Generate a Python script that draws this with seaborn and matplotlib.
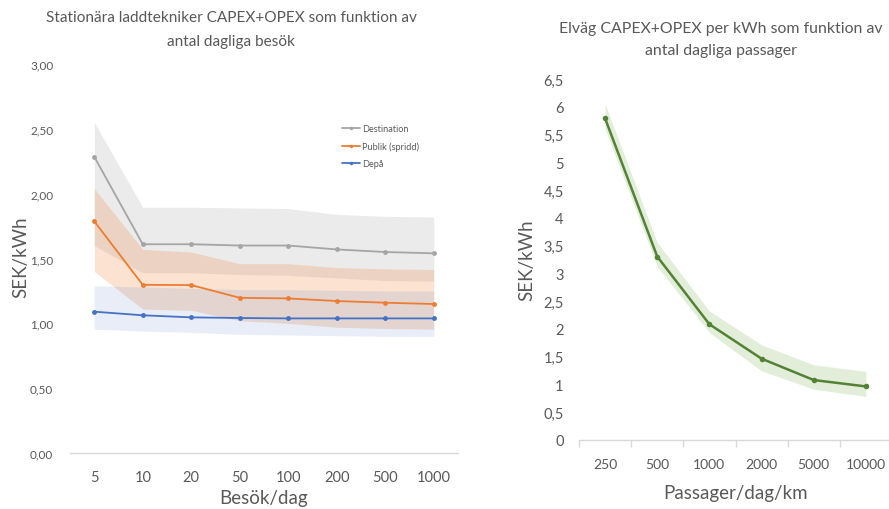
import matplotlib
matplotlib.use("Agg")
import matplotlib.pyplot as plt
from matplotlib.lines import Line2D
import seaborn as sns
import pandas as pd
import numpy as np

# ---------------- data: left chart ----------------
visits = ["5", "10", "20", "50", "100", "200", "500", "1000"]
series_names = ["Destination", "Publik (spridd)", "Depå"]
destination = [2.285, 1.61, 1.61, 1.60, 1.60, 1.57, 1.55, 1.54]
publik = [1.787, 1.297, 1.295, 1.197, 1.192, 1.172, 1.159, 1.149]
depa = [1.09, 1.062, 1.046, 1.041, 1.038, 1.038, 1.038, 1.038]
destination_hi = [2.55, 1.895, 1.895, 1.89, 1.885, 1.84, 1.825, 1.82]
destination_lo = [1.60, 1.39, 1.39, 1.377, 1.37, 1.35, 1.33, 1.325]
publik_hi = [2.04, 1.57, 1.55, 1.46, 1.46, 1.43, 1.42, 1.415]
publik_lo = [1.40, 1.11, 1.10, 1.02, 1.00, 0.97, 0.96, 0.955]
depa_hi = [1.29, 1.28, 1.27, 1.26, 1.26, 1.255, 1.25, 1.25]
depa_lo = [0.955, 0.94, 0.93, 0.915, 0.91, 0.905, 0.90, 0.90]
left_yticks = [0.0, 0.5, 1.0, 1.5, 2.0, 2.5, 3.0]

# ---------------- data: right chart ----------------
passages = ["250", "500", "1000", "2000", "5000", "10000"]
elvag = [5.79, 3.30, 2.08, 1.46, 1.075, 0.96]
elvag_hi = [6.05, 3.55, 2.32, 1.71, 1.35, 1.23]
elvag_lo = [5.60, 3.12, 1.93, 1.24, 0.91, 0.78]
right_yticks = [0, 0.5, 1, 1.5, 2, 2.5, 3, 3.5, 4, 4.5, 5, 5.5, 6, 6.5]

# ---------------- style ----------------
sns.set_theme(style="white")
plt.rcParams["font.family"] = ["Lato", "DejaVu Sans"]
TXT = "#595959"
AX = "#D9D9D9"
colors = {"Destination": "#A5A5A5", "Publik (spridd)": "#ED7D31", "Depå": "#4472C4"}
green_line = "#548235"
green_fill = "#70AD47"

fig = plt.figure(figsize=(8.89, 5.10), dpi=100)

# ---------------- left chart ----------------
W, H = 889.0, 510.0
axL = fig.add_axes([70 / W, (H - 454) / H, (458 - 70) / W, (454 - 65) / H])
pos = list(range(len(visits)))
df_left = pd.DataFrame({
    "pos": pos * 3,
    "value": destination + publik + depa,
    "series": [series_names[0]] * len(pos) + [series_names[1]] * len(pos) + [series_names[2]] * len(pos),
})

axL.fill_between(pos, destination_lo, destination_hi, color=colors["Destination"], alpha=0.22, lw=0, zorder=1)
axL.fill_between(pos, publik_lo, publik_hi, color=colors["Publik (spridd)"], alpha=0.22, lw=0, zorder=1)
axL.fill_between(pos, depa_lo, depa_hi, color=colors["Depå"], alpha=0.12, lw=0, zorder=1)

sns.lineplot(data=df_left, x="pos", y="value", hue="series", hue_order=series_names,
             palette=colors, marker="o", markersize=3.5, markeredgewidth=0,
             linewidth=1.3, legend=False, ax=axL, zorder=3)

axL.set_xlim(-0.5, len(visits) - 0.5)
axL.set_ylim(0, 3.0)
axL.set_xticks(pos)
axL.set_xticklabels(visits, fontsize=10.5, color=TXT)
axL.set_yticks(left_yticks)
axL.set_yticklabels([f"{v:.2f}".replace(".", ",") for v in left_yticks], fontsize=8.5, color=TXT)
axL.tick_params(axis="x", length=0, pad=12)
axL.tick_params(axis="y", length=0, pad=12)
for s in ["top", "right", "left"]:
    axL.spines[s].set_visible(False)
axL.spines["bottom"].set_color(AX)
axL.spines["bottom"].set_linewidth(1.0)
axL.set_xlabel("Besök/dag", fontsize=13.5, color=TXT, labelpad=4)
axL.set_ylabel("SEK/kWh", fontsize=13.5, color=TXT)
axL.yaxis.set_label_coords((29 - 70) / 388, 0.506)

handles = [Line2D([0], [0], color=colors[n], lw=1.3, marker="o", markersize=2.5, markeredgewidth=0)
           for n in series_names]
leg = axL.legend(handles, series_names, loc="upper left", bbox_to_anchor=((342 - 70) / 388, (454 - 125) / 389),
                 frameon=False, fontsize=6.6, handlelength=2.0, handletextpad=0.2, labelspacing=0.9,
                 borderaxespad=0, borderpad=0)
for t in leg.get_texts():
    t.set_color(TXT)

fig.text(231 / W, 1 - 18 / H, "Stationära laddtekniker CAPEX+OPEX som funktion av",
         ha="center", va="center", fontsize=11.1, color=TXT)
fig.text(231 / W, 1 - 42 / H, "antal dagliga besök", ha="center", va="center", fontsize=11.1, color=TXT)

# ---------------- right chart ----------------
axR = fig.add_axes([579 / W, (H - 440.7) / H, (892 - 579) / W, (440.7 - 80) / H])
rpos = list(range(len(passages)))
df_right = pd.DataFrame({"pos": rpos, "value": elvag})
axR.fill_between(rpos, elvag_lo, elvag_hi, color=green_fill, alpha=0.2, lw=0, zorder=1)
sns.lineplot(data=df_right, x="pos", y="value", color=green_line, marker="o", markersize=4,
             markeredgewidth=0, linewidth=1.8, ax=axR, zorder=3)
axR.set_xlim(-0.5, len(passages) - 0.5)
axR.set_ylim(0, 6.5)
axR.set_yticks(right_yticks)
axR.set_yticklabels([(f"{v:g}").replace(".", ",") for v in right_yticks], fontsize=10.5, color=TXT)
axR.set_xticks(rpos)
axR.set_xticklabels(passages, fontsize=10, color=TXT)
axR.set_xticks([p - 0.5 for p in rpos] + [len(rpos) - 0.5], minor=True)
axR.tick_params(axis="x", which="major", length=0, pad=13)
axR.tick_params(axis="x", which="minor", length=5, color=AX, width=1.0, bottom=True)
axR.tick_params(axis="y", length=0, pad=11)
for s in ["top", "right", "left"]:
    axR.spines[s].set_visible(False)
axR.spines["bottom"].set_color(AX)
axR.spines["bottom"].set_linewidth(1.0)
axR.set_xlabel("Passager/dag/km", fontsize=13.5, color=TXT, labelpad=10)
axR.set_ylabel("SEK/kWh", fontsize=13.5, color=TXT, labelpad=6)

fig.text(721 / W, 1 - 29 / H, "Elväg CAPEX+OPEX per kWh som funktion av",
         ha="center", va="center", fontsize=11.4, color=TXT)
fig.text(721 / W, 1 - 51 / H, "antal dagliga passager", ha="center", va="center", fontsize=11.4, color=TXT)

fig.savefig("out.png", dpi=100)
